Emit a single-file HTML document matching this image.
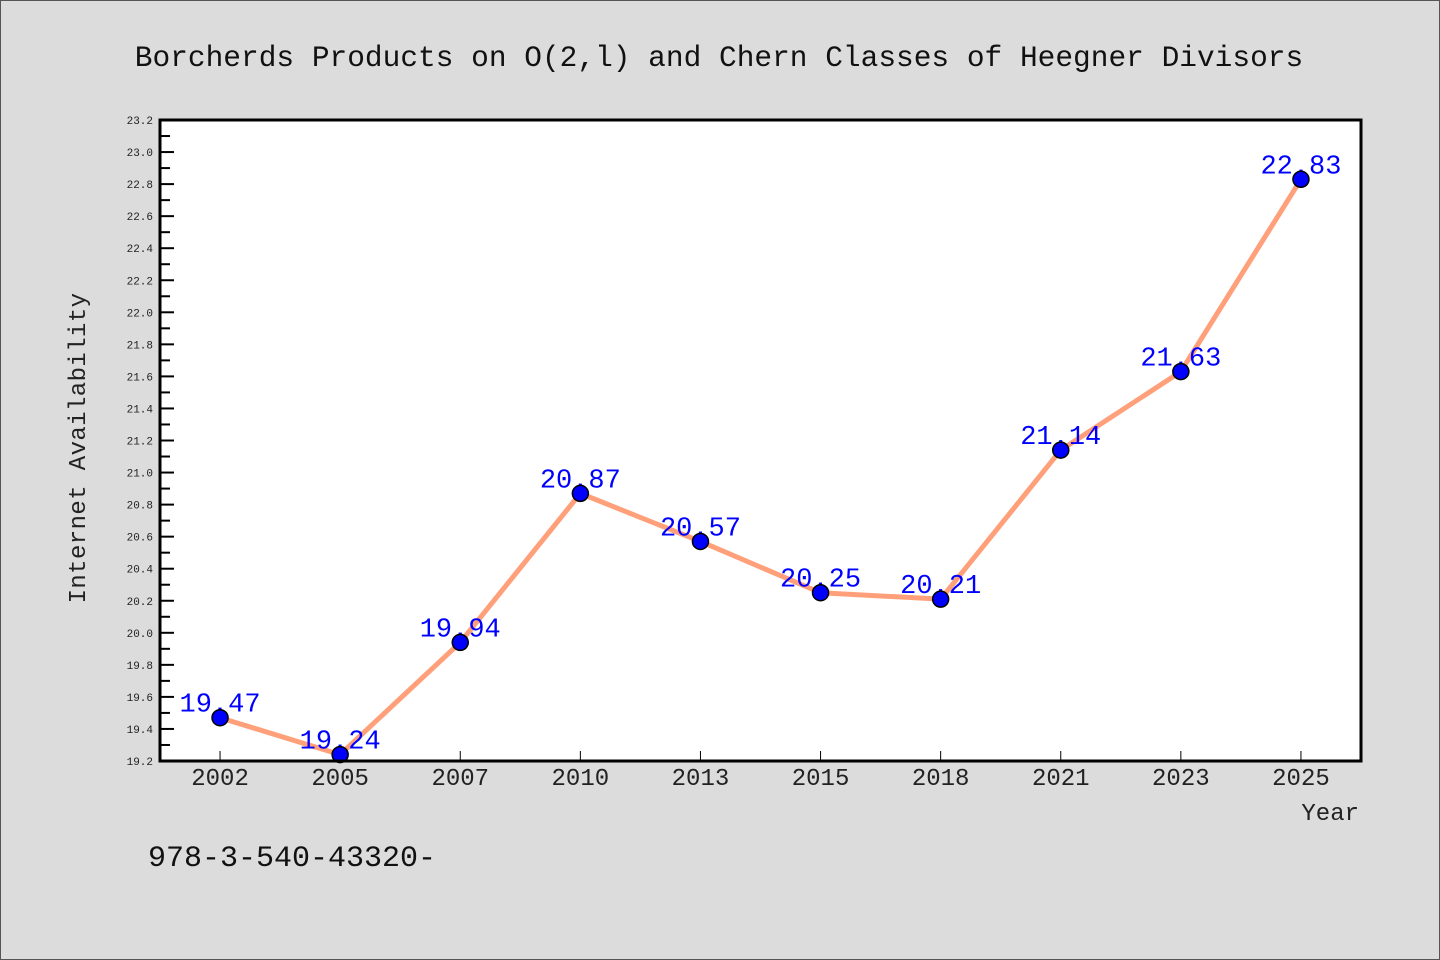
<!DOCTYPE html>
<html><head><meta charset="utf-8"><style>
html,body{margin:0;padding:0;background:#dcdcdc;}
svg{display:block;font-family:"Liberation Mono","DejaVu Sans Mono",monospace;}
</style></head><body>
<svg id="chart" width="1440" height="960" xmlns="http://www.w3.org/2000/svg">
<rect x="0.5" y="0.5" width="1439" height="959" fill="#dcdcdc" stroke="#555" stroke-width="1"/>
<text x="719" y="66" font-size="29.5" text-anchor="middle" fill="#111">Borcherds Products on O(2,l) and Chern Classes of Heegner Divisors</text>
<rect x="160" y="120" width="1201" height="641" fill="#fff"/>
<g id="ticks"></g>
<g id="series"></g>
<rect x="160" y="120" width="1201" height="641" fill="none" stroke="#000" stroke-width="3"/>
<text transform="translate(85,448) rotate(-90)" font-size="24" text-anchor="middle" fill="#222" letter-spacing="0.4">Internet Availability</text>
<text x="1359" y="820" font-size="24" text-anchor="end" fill="#222">Year</text>
<text x="148" y="866" font-size="30" fill="#111">978-3-540-43320-</text>
</svg>
<script>
const categories=["2002","2005","2007","2010","2013","2015","2018","2021","2023","2025"];
const values=[19.47,19.24,19.94,20.87,20.57,20.25,20.21,21.14,21.63,22.83];
const yTicks=[19.2,19.4,19.6,19.8,20.0,20.2,20.4,20.6,20.8,21.0,21.2,21.4,21.6,21.8,22.0,22.2,22.4,22.6,22.8,23.0,23.2];
const NS="http://www.w3.org/2000/svg";
const L=160,R=1361,T=120,B=761,yMin=19.2,yMax=23.2;
const bw=(R-L)/categories.length;
function xs(i){return L+(i+0.5)*bw;}
function ys(v){return B-(v-yMin)/(yMax-yMin)*(B-T);}
function mk(tag,attrs,parent){const e=document.createElementNS(NS,tag);for(const k in attrs)e.setAttribute(k,attrs[k]);parent.appendChild(e);return e;}
const tg=document.getElementById('ticks'),sg=document.getElementById('series');
yTicks.forEach((v,i)=>{
  const y=ys(v);
  const t=mk('line',{x1:L,x2:L+14,y1:y,y2:y,stroke:'#000','stroke-width':2},tg);
  
  
  if(i<yTicks.length-1){
    const m=mk('line',{x1:L,x2:L+10,y1:ys(v+0.1),y2:ys(v+0.1),stroke:'#000','stroke-width':2},tg);
    
    
  }
  const lb=mk('text',{x:L-7,y:y+4,'font-size':11,'text-anchor':'end',fill:'#222'},tg);
  lb.textContent=v.toFixed(1);
  
  
});
categories.forEach((c,i)=>{
  const x=xs(i);
  const t=mk('line',{x1:x,x2:x,y1:B,y2:B-10,stroke:'#000','stroke-width':1},tg);
  
  
  const lb=mk('text',{x:x,y:B+24,'font-size':24,'text-anchor':'middle',fill:'#222'},tg);
  lb.textContent=c;
  
  
});
const line=mk('polyline',{points:values.map((v,i)=>xs(i)+','+ys(v)).join(' '),fill:'none',stroke:'#ffa07a','stroke-width':5,'stroke-linejoin':'round'},sg);


values.forEach((v,i)=>{
  const lb=mk('text',{x:xs(i),y:ys(v)-6,'font-size':27,'text-anchor':'middle',fill:'#0000ff'},sg);
  lb.textContent=v.toFixed(2);
  
  
});
values.forEach((v,i)=>{
  const c=mk('circle',{cx:xs(i),cy:ys(v),r:8,fill:'#0000ff',stroke:'#000','stroke-width':1.5},sg);
  
  
});
</script>
</body></html>
